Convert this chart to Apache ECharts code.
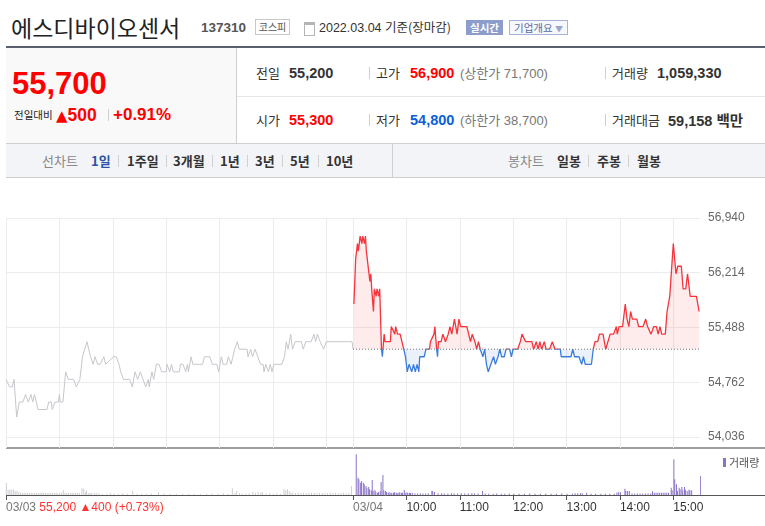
<!DOCTYPE html>
<html><head><meta charset="utf-8">
<script src="https://cdn.jsdelivr.net/npm/echarts@6/dist/echarts.min.js"></script>
<style>
html,body{margin:0;padding:0;background:#fff;width:765px;height:526px;overflow:hidden;font-family:"Liberation Sans","Noto Sans CJK KR",sans-serif;}
.a{position:absolute;white-space:nowrap;line-height:20px;}
.k{font-family:"Noto Sans CJK KR","Liberation Sans",sans-serif;}
.b{font-weight:bold;}
.sep{position:absolute;width:1px;height:12px;background:#d0d0d0;}
#chart{position:absolute;left:0;top:190px;width:765px;height:336px;}
</style></head>
<body>
<!-- header -->
<div class="a k" style="left:11px;top:13px;font-size:23px;line-height:28px;color:#222;">에스디바이오센서</div>
<div class="a b" style="left:201px;top:18px;font-size:13.5px;color:#555;">137310</div>
<div class="a k" style="left:255px;top:19px;width:33px;height:14px;line-height:14px;border:1px solid #c8c8c8;font-size:10px;color:#555;text-align:center;">코스피</div>
<div style="position:absolute;left:304px;top:22px;width:9px;height:10px;border:1px solid #b5b5b5;border-top-width:3px;"></div>
<div class="a" style="left:319px;top:17px;font-size:12.5px;color:#333;">2022.03.04 <span class="k">기준(장마감)</span></div>
<div class="a k b" style="left:466px;top:20px;width:37px;height:15px;line-height:15px;background:#8c9dcb;color:#fff;font-size:10.5px;text-align:center;">실시간</div>
<div class="a k" style="left:509px;top:20px;width:57px;height:13px;line-height:13px;border:1px solid #a7b3d6;background:#f6f8fc;color:#5a6ca6;font-size:10.5px;text-align:center;">기업개요 <span style="font-size:8px;color:#99a6cc;">▼</span></div>
<div style="position:absolute;left:6px;top:46px;width:759px;height:2px;background:#5a606d;"></div>

<!-- price box -->
<div style="position:absolute;left:6px;top:48px;width:230px;height:95px;background:#f9f9f9;border-right:1px solid #cfcfcf;"></div>
<div class="a b" style="left:12px;top:65px;font-size:31px;line-height:38px;color:#f00;">55,700</div>
<div class="a k" style="left:14px;top:105px;font-size:10.5px;color:#222;">전일대비</div>
<div class="a b" style="left:56px;top:104px;font-size:17.5px;line-height:22px;color:#f00;"><span style="font-family:'DejaVu Sans';font-size:15px;">▲</span>500</div>
<div class="sep" style="left:108px;top:109px;"></div>
<div class="a b" style="left:113px;top:104px;font-size:17px;line-height:22px;color:#f00;">+0.91%</div>

<!-- table -->
<div style="position:absolute;left:237px;top:96px;width:528px;height:1px;background:#e6e6e6;"></div>
<div class="a k" style="left:256px;top:63px;font-size:13px;color:#333;">전일</div>
<div class="a b" style="left:289px;top:63px;font-size:14.5px;color:#333;">55,200</div>
<div class="sep" style="left:369px;top:67px;"></div>
<div class="a k" style="left:376px;top:63px;font-size:13px;color:#333;">고가</div>
<div class="a b" style="left:410px;top:63px;font-size:14.5px;color:#f00;">56,900</div>
<div class="a" style="left:460px;top:63px;font-size:13px;color:#777;">(<span class="k">상한가</span> 71,700)</div>
<div class="sep" style="left:605px;top:67px;"></div>
<div class="a k" style="left:612px;top:63px;font-size:13px;color:#333;">거래량</div>
<div class="a b" style="left:657px;top:63px;font-size:14.5px;color:#333;">1,059,330</div>

<div class="a k" style="left:256px;top:110px;font-size:13px;color:#333;">시가</div>
<div class="a b" style="left:289px;top:110px;font-size:14.5px;color:#f00;">55,300</div>
<div class="sep" style="left:369px;top:114px;"></div>
<div class="a k" style="left:376px;top:110px;font-size:13px;color:#333;">저가</div>
<div class="a b" style="left:410px;top:110px;font-size:14.5px;color:#0a5fd8;">54,800</div>
<div class="a" style="left:460px;top:110px;font-size:13px;color:#777;">(<span class="k">하한가</span> 38,700)</div>
<div class="sep" style="left:605px;top:114px;"></div>
<div class="a k" style="left:612px;top:110px;font-size:13px;color:#333;">거래대금</div>
<div class="a b" style="left:668px;top:110px;font-size:14.5px;color:#333;">59,158 <span class="k">백만</span></div>

<!-- tab bar -->
<div style="position:absolute;left:6px;top:143px;width:759px;height:33px;background:#f3f4f7;border-top:1px solid #cfcfcf;border-bottom:1px solid #cfcfcf;"></div>
<div style="position:absolute;left:392px;top:144px;width:1px;height:33px;background:#cfcfcf;"></div>
<div class="a k" style="left:42px;top:151px;font-size:13px;color:#888;">선차트</div>
<div class="a k b" style="left:91px;top:151px;font-size:13px;color:#2952a8;">1일</div>
<div class="sep" style="left:118px;top:155px;"></div>
<div class="a k b" style="left:127px;top:151px;font-size:13px;color:#333;">1주일</div>
<div class="sep" style="left:166px;top:155px;"></div>
<div class="a k b" style="left:173px;top:151px;font-size:13px;color:#333;">3개월</div>
<div class="sep" style="left:212px;top:155px;"></div>
<div class="a k b" style="left:220px;top:151px;font-size:13px;color:#333;">1년</div>
<div class="sep" style="left:247px;top:155px;"></div>
<div class="a k b" style="left:255px;top:151px;font-size:13px;color:#333;">3년</div>
<div class="sep" style="left:282px;top:155px;"></div>
<div class="a k b" style="left:290px;top:151px;font-size:13px;color:#333;">5년</div>
<div class="sep" style="left:318px;top:155px;"></div>
<div class="a k b" style="left:326px;top:151px;font-size:13px;color:#333;">10년</div>
<div class="a k" style="left:508px;top:151px;font-size:13px;color:#888;">봉차트</div>
<div class="a k b" style="left:557px;top:151px;font-size:13px;color:#333;">일봉</div>
<div class="sep" style="left:588px;top:155px;"></div>
<div class="a k b" style="left:597px;top:151px;font-size:13px;color:#333;">주봉</div>
<div class="sep" style="left:628px;top:155px;"></div>
<div class="a k b" style="left:637px;top:151px;font-size:13px;color:#333;">월봉</div>

<div id="chart"></div>
<script>
// ---- data ----
const prevClose = 55200;
const dayMinutes = 390; // 09:00 - 15:30
// 03/03 (minutes since 09:00, price)
const prevDay = [[0,54800],[2,54800],[4,54700],[7,54700],[9,54800],[12,54300],[15,54500],[19,54500],[22,54600],[23,54600],[25,54500],[28,54600],[30,54500],[32,54600],[34,54600],[36,54400],[46,54400],[48,54500],[51,54500],[52,54400],[55,54500],[59,54500],[60,54600],[61,54500],[64,54500],[67,54900],[69,54900],[70,54800],[76,54800],[79,54700],[81,54700],[83,54800],[86,55100],[88,55100],[91,55300],[93,55300],[95,55100],[98,55000],[100,55100],[103,55000],[106,55000],[110,55100],[112,55000],[121,55100],[124,55100],[127,55000],[129,54900],[132,54800],[139,54800],[142,54700],[145,54900],[148,54800],[151,54900],[154,54800],[157,54700],[160,54800],[161,54700],[164,54900],[166,54800],[169,55000],[172,55000],[175,54900],[180,54900],[181,55000],[184,54900],[186,55000],[188,54900],[195,54900],[196,55000],[199,55000],[202,54900],[204,55000],[205,54900],[208,55100],[210,55000],[221,55000],[223,55100],[229,55100],[232,55000],[237,55000],[239,54900],[242,55100],[244,55000],[248,55000],[250,55100],[253,55000],[255,55100],[257,55200],[260,55300],[262,55200],[271,55200],[272,55100],[275,55200],[277,55100],[280,55200],[283,55100],[286,55000],[289,55000],[290,54900],[292,55000],[295,54900],[297,55000],[299,54900],[301,55000],[310,55000],[313,55100],[315,55300],[317,55200],[320,55400],[322,55200],[325,55300],[332,55300],[334,55200],[337,55300],[343,55300],[346,55400],[348,55300],[350,55400],[353,55300],[357,55200],[360,55300],[389,55300],[390,55200]];
// 03/04 (minutes since 09:00, price)
const today = [[1,55800],[3,56400],[5,56600],[6,56500],[8,56700],[10,56600],[11,56700],[13,56600],[14,56700],[15,56500],[18,56200],[19,56100],[20,56200],[21,56000],[23,55700],[24,56000],[26,55900],[27,56000],[29,55900],[30,56000],[31,55600],[32,55200],[33,55100],[35,55400],[36,55300],[42,55300],[43,55500],[45,55500],[47,55400],[48,55500],[50,55400],[53,55400],[55,55300],[57,55200],[59,55100],[61,54900],[63,55000],[66,54900],[68,55000],[70,54900],[72,55000],[74,54900],[75,55100],[80,55100],[82,55200],[86,55200],[87,55300],[91,55400],[92,55500],[94,55200],[95,55100],[96,55300],[99,55300],[101,55400],[104,55300],[107,55400],[109,55500],[111,55400],[114,55600],[117,55400],[119,55600],[121,55500],[128,55500],[130,55400],[132,55300],[134,55400],[137,55300],[139,55200],[141,55300],[143,55200],[146,55100],[148,55200],[150,55000],[152,54900],[155,55000],[158,55100],[160,55000],[163,55100],[165,55200],[167,55100],[170,55100],[172,55200],[176,55200],[178,55100],[180,55200],[185,55200],[188,55300],[190,55400],[192,55400],[194,55300],[201,55300],[203,55200],[206,55300],[208,55200],[210,55300],[212,55200],[215,55300],[217,55200],[221,55200],[224,55300],[227,55200],[233,55200],[234,55100],[245,55100],[247,55200],[249,55100],[254,55100],[257,55000],[259,55100],[261,55000],[268,55000],[270,55200],[272,55300],[275,55300],[277,55400],[281,55400],[284,55200],[286,55200],[289,55400],[293,55400],[296,55500],[297,55400],[299,55500],[303,55500],[306,55800],[308,55600],[310,55500],[312,55700],[314,55600],[319,55600],[321,55500],[326,55500],[329,55600],[331,55500],[333,55500],[335,55400],[338,55500],[341,55500],[343,55400],[345,55500],[347,55400],[351,55400],[353,55700],[356,55900],[360,56600],[363,56200],[365,56300],[369,56300],[371,56000],[374,56000],[376,56200],[379,55900],[386,55900],[389,55700]];
// volumes (minutes since 09:00, shares)
const prevVolume = [[1,12300],[3,5000],[5,5700],[7,5000],[9,5700],[11,4000],[13,4300],[15,3000],[17,2300],[19,2000],[21,2300],[23,2000],[25,2300],[27,2000],[29,2300],[31,1700],[33,2300],[35,2000],[37,2300],[39,2000],[41,2600],[43,2000],[45,2300],[47,1700],[49,2300],[51,2000],[53,2300],[55,2000],[57,2300],[59,1700],[61,2300],[63,2000],[65,4700],[67,2300],[69,2000],[71,2300],[73,1700],[75,2300],[77,2000],[79,2300],[81,1700],[83,2300],[86,6700],[88,6300],[90,3000],[91,4700],[93,2300],[95,2000],[97,2300],[100,1700],[102,2300],[105,2000],[109,1300],[114,1300],[118,2000],[122,1300],[127,1300],[132,1700],[137,1300],[143,4000],[148,1300],[153,1300],[158,1300],[164,1300],[172,3000],[178,1300],[185,1300],[192,1300],[199,1300],[206,1300],[212,1300],[219,1300],[226,1300],[232,1300],[239,1300],[245,1700],[250,1300],[255,6700],[258,2300],[260,4000],[263,2000],[266,1300],[270,1300],[274,1700],[278,3000],[281,2300],[284,3000],[287,2300],[289,3000],[293,1300],[297,1700],[301,1300],[305,1700],[309,1300],[313,5700],[315,4700],[317,5700],[319,4000],[321,2300],[323,2300],[326,2000],[329,2300],[332,2000],[335,2300],[338,1700],[341,2300],[344,2000],[347,2300],[350,1700],[353,2300],[356,2000],[359,2300],[362,1700],[365,2300],[368,2000],[371,2300],[374,1700],[377,2000],[380,2300],[383,1700],[386,2300],[389,9000]];
const todayVolume = [[3,40700],[5,17300],[6,15700],[8,12300],[9,14000],[11,12300],[12,10700],[14,9000],[15,7300],[17,8000],[18,5700],[20,4700],[21,15000],[22,4000],[24,5000],[25,3300],[27,2300],[28,3000],[30,4000],[31,13000],[33,20000],[34,4700],[36,4000],[37,3000],[39,2300],[40,2700],[42,2300],[43,2000],[45,2300],[46,2700],[48,2300],[49,2000],[51,2300],[52,2700],[54,2000],[55,2300],[57,5000],[58,2300],[60,2700],[61,2000],[63,2300],[64,2000],[66,2300],[69,1500],[72,1500],[75,1700],[78,1500],[81,1500],[84,1700],[88,4000],[89,4000],[91,3000],[95,1500],[99,1700],[102,1500],[106,1500],[110,1700],[113,1500],[117,1500],[121,1700],[125,1500],[129,1500],[133,1700],[136,1500],[140,1500],[145,4000],[148,1500],[152,1300],[157,1300],[161,1500],[166,1300],[170,1300],[175,1500],[180,1300],[186,1300],[192,1300],[198,1500],[204,1300],[210,1300],[216,1300],[222,1300],[228,1300],[234,1500],[240,1300],[246,1300],[249,1700],[252,1700],[255,1700],[257,1700],[262,2300],[267,1300],[272,1300],[278,1300],[283,1300],[288,1300],[293,1300],[296,2500],[298,3000],[300,2700],[305,6300],[306,4000],[308,4000],[310,4000],[313,1500],[316,1500],[319,1500],[322,1500],[325,1500],[328,1500],[331,1500],[334,1500],[336,3700],[338,2300],[340,2300],[342,2300],[344,2300],[346,2300],[348,2300],[350,2300],[352,2300],[354,2300],[357,7300],[358,4700],[360,35700],[361,15700],[363,10700],[364,4000],[366,7300],[367,5700],[369,8000],[370,4700],[372,8000],[373,5300],[375,4000],[377,5300],[378,4700],[380,4700],[390,19000]];
const priceTicks = [54036, 54762, 55488, 56214, 56940];
const gridTicks = [0, 60, 120, 180, 240, 300, 360, 390, 450, 510, 570, 630, 690, 750];
const timeTicks = [0, 390, 450, 510, 570, 630, 690, 750];
const timeLabels = ['03/03', '03/04', '10:00', '11:00', '12:00', '13:00', '14:00', '15:00'];
const prevDayNote = '55,200 ▲400 (+0.73%)';

// ---- chart ----
const shift = (arr, off) => arr.map(d => [d[0] + off, d[1]]);
const chart = echarts.init(document.getElementById('chart'), null, {renderer: 'canvas'});
const FONT = '"Liberation Sans","Noto Sans CJK KR",sans-serif';
chart.setOption({
  animation: false,
  textStyle: {fontFamily: FONT},
  grid: [
    {left: 6, right: 65, top: 28, height: 230},
    {left: 6, right: 65, top: 262, height: 43}
  ],
  legend: {
    data: ['거래량'], left: 723, top: 267, icon: 'rect', itemWidth: 3, itemHeight: 9, padding: 0, itemGap: 0,
    textStyle: {fontSize: 11, color: '#555', fontFamily: '"Noto Sans CJK KR",sans-serif', padding: [0, 0, 0, -2]}
  },
  xAxis: [
    {type: 'value', gridIndex: 0, min: 0, max: dayMinutes * 2,
     axisLine: {show: false}, axisLabel: {show: false},
     axisTick: {show: false, customValues: gridTicks},
     splitLine: {show: true, lineStyle: {color: '#ececec', width: 1}}},
    {type: 'value', gridIndex: 1, min: 0, max: dayMinutes * 2,
     axisLine: {show: false},
     axisTick: {show: true, customValues: timeTicks, length: 5, lineStyle: {color: '#555'}},
     axisLabel: {show: true, customValues: timeTicks, align: 'left', margin: 7, fontSize: 12,
       formatter: function (v) {
         const i = timeTicks.indexOf(v);
         if (i === 0) return '{g|' + timeLabels[0] + '} {r|' + prevDayNote + '}';
         if (i === 1) return '{g|' + timeLabels[1] + '}';
         return '{d|' + timeLabels[i] + '}';
       },
       rich: {
         g: {color: '#777', fontSize: 12, fontFamily: FONT},
         d: {color: '#333', fontSize: 12, fontFamily: FONT},
         r: {color: '#f33', fontSize: 12, fontFamily: FONT}
       }},
     splitLine: {show: false}}
  ],
  yAxis: [
    {type: 'value', gridIndex: 0, position: 'right', min: 53890, max: 56940,
     axisLine: {show: false},
     axisTick: {show: false, customValues: priceTicks},
     axisLabel: {customValues: priceTicks, margin: 8, color: '#666', fontSize: 12,
       formatter: v => v.toLocaleString('en-US')},
     splitLine: {show: true, lineStyle: {color: '#ececec', width: 1}}},
    {type: 'value', gridIndex: 1, min: 0, max: 43000,
     axisLine: {show: false}, axisTick: {show: false}, axisLabel: {show: false}, splitLine: {show: false}}
  ],
  series: [
    {id: 'prev', name: '03/03', type: 'line', xAxisIndex: 0, yAxisIndex: 0, data: prevDay,
     symbol: 'none', lineStyle: {color: '#c6c6cc', width: 1}, z: 3},
    {id: 'today', name: '03/04', type: 'line', xAxisIndex: 0, yAxisIndex: 0, data: shift(today, dayMinutes),
     symbol: 'none', lineStyle: {width: 1.3, color: '#f5343c'},
     areaStyle: {origin: prevClose, color: 'rgba(245,52,60,0.14)'}, z: 3},
    {id: 'base', name: '전일종가', type: 'line', xAxisIndex: 0, yAxisIndex: 0,
     data: [[dayMinutes, prevClose], [dayMinutes * 2, prevClose]],
     symbol: 'none', silent: true, lineStyle: {color: '#777', width: 1, type: [1, 2]}, z: 4},
    {name: '거래량(전일)', type: 'bar', xAxisIndex: 1, yAxisIndex: 1, data: prevVolume,
     barWidth: 1, itemStyle: {color: '#cdcdd3'}, silent: true},
    {name: '거래량', type: 'bar', xAxisIndex: 1, yAxisIndex: 1, data: shift(todayVolume, dayMinutes),
     barWidth: 1, itemStyle: {color: '#8b72c8'}, silent: true}
  ],
  graphic: [
    {type: 'line', shape: {x1: 6, y1: 258, x2: 765, y2: 258}, style: {stroke: '#9d9d9d', lineWidth: 2}, silent: true},
    {type: 'line', shape: {x1: 6, y1: 305.5, x2: 765, y2: 305.5}, style: {stroke: '#555', lineWidth: 1}, silent: true}
  ]
});
// red above / blue below the previous close: sharp gradient at the baseline pixel
const yBase = chart.convertToPixel({yAxisIndex: 0}, prevClose);
const split = (above, below) => new echarts.graphic.LinearGradient(0, yBase - 0.01, 0, yBase + 0.01,
  [{offset: 0, color: above}, {offset: 1, color: below}], true);
chart.setOption({series: [{id: 'today',
  lineStyle: {color: split('#f5343c', '#3b7ddd')},
  areaStyle: {color: split('rgba(245,52,60,0.14)', 'rgba(59,125,221,0.15)')}}]});
</script>
</body></html>
